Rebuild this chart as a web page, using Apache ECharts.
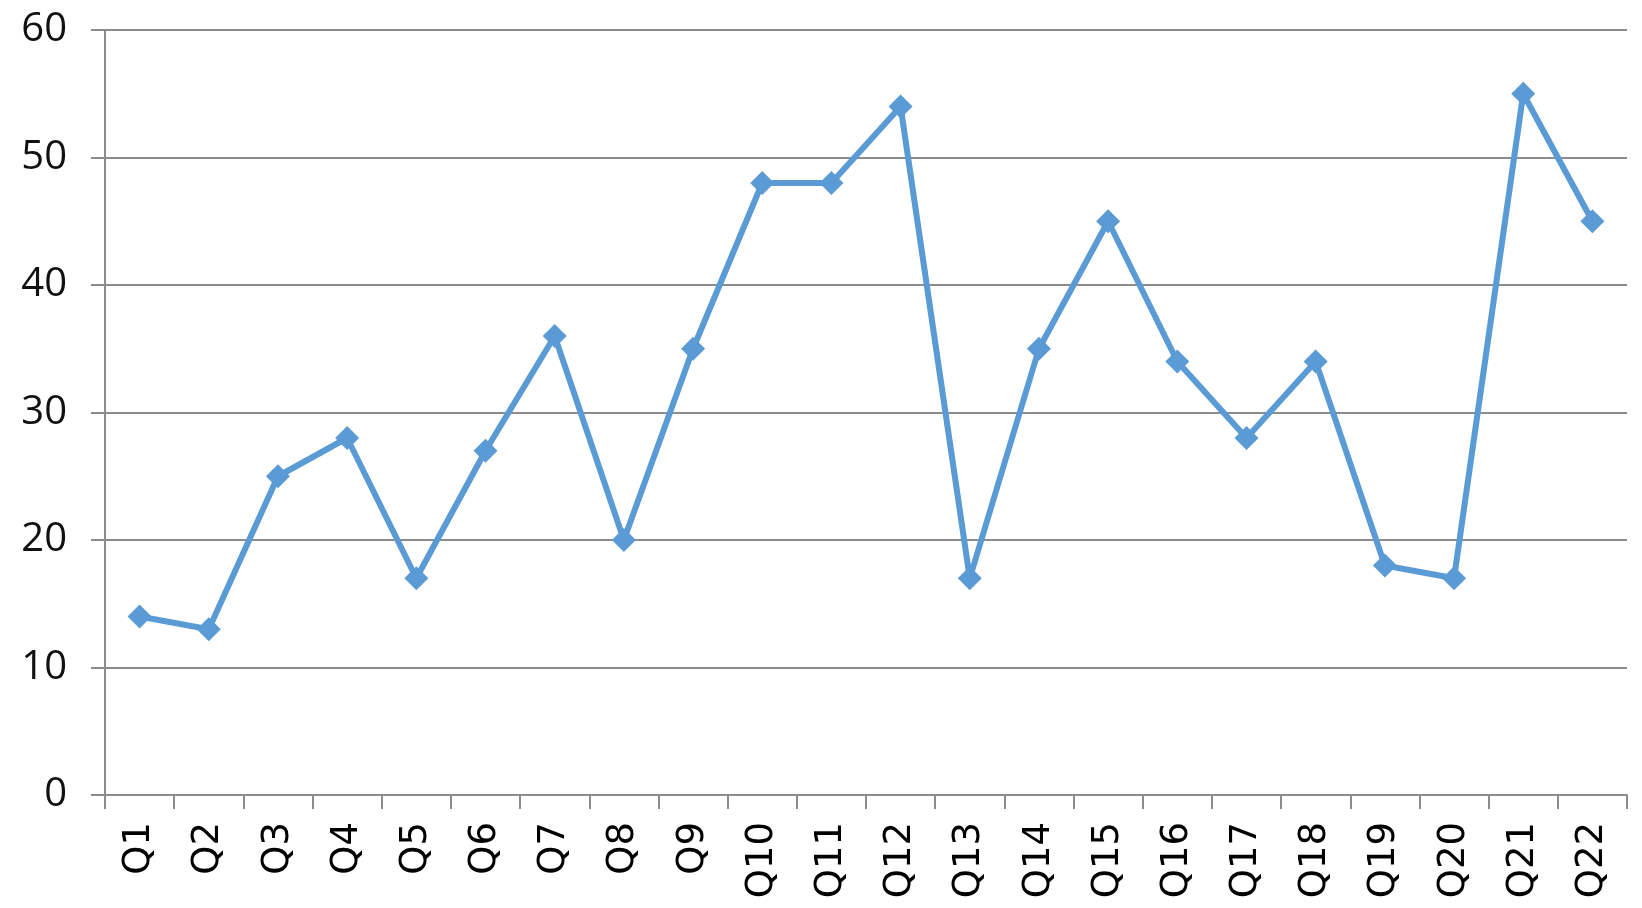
<!DOCTYPE html>
<html><head><meta charset="utf-8">
<script src="https://cdn.jsdelivr.net/npm/echarts@6/dist/echarts.min.js"></script>
<style>html,body{margin:0;padding:0;background:#fff}#c{width:1642px;height:908px}</style>
</head><body><div id="c"></div>
<script>
const categories = ["Q1","Q2","Q3","Q4","Q5","Q6","Q7","Q8","Q9","Q10","Q11","Q12","Q13","Q14","Q15","Q16","Q17","Q18","Q19","Q20","Q21","Q22"];
const values = [14,13,25,28,17,27,36,20,35,48,48,54,17,35,45,34,28,34,18,17,55,45];
const yTicks = [0,10,20,30,40,50,60];

const chart = echarts.init(document.getElementById('c'), null, {renderer:'canvas'});
chart.setOption({
  animation:false,
  backgroundColor:'#fff',
  grid:{left:105,right:15,top:30,bottom:113},
  xAxis:{
    type:'category', data:categories, boundaryGap:true,
    axisLine:{lineStyle:{color:'#8c8c8c',width:2}},
    axisTick:{show:true,length:14,lineStyle:{color:'#8c8c8c',width:2}},
    axisLabel:{rotate:90,margin:27,color:'#000',fontSize:37,fontFamily:'DejaVu Sans'}
  },
  yAxis:{
    type:'value', min:yTicks[0], max:yTicks[yTicks.length-1], interval:10,
    axisLine:{show:true,lineStyle:{color:'#8c8c8c',width:2}},
    axisTick:{show:true,length:14,lineStyle:{color:'#8c8c8c',width:2}},
    splitLine:{show:true,lineStyle:{color:'#8c8c8c',width:2}},
    axisLabel:{margin:38,color:'#111',fontSize:40,fontFamily:'Open Sans'}
  },
  series:[{
    type:'line', data:values,
    lineStyle:{color:'#5B9BD5',width:6},
    itemStyle:{color:'#5B9BD5'},
    symbol:'diamond', symbolSize:24, showAllSymbol:true
  }]
});
</script></body></html>
